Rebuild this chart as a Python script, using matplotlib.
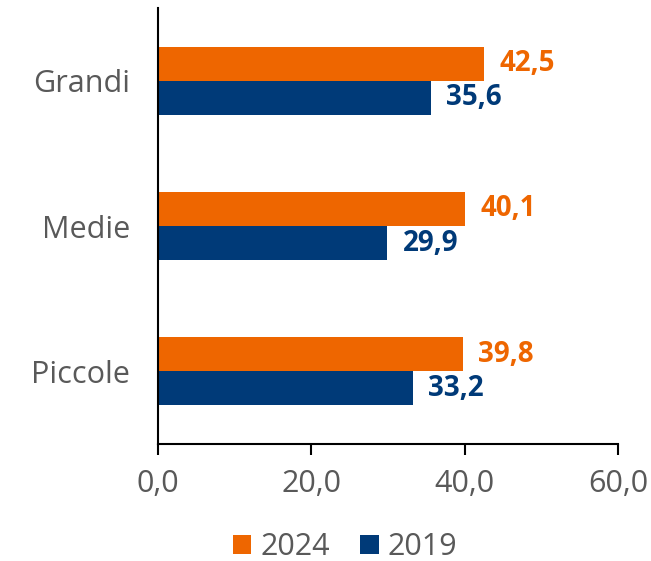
import matplotlib
matplotlib.use("Agg")
import matplotlib.pyplot as plt
import numpy as np

categories = ["Grandi", "Medie", "Piccole"]
series_names = ["2024", "2019"]
values_2024 = [42.5, 40.1, 39.8]
values_2019 = [35.6, 29.9, 33.2]
x_ticks = [0, 20, 40, 60]
x_tick_labels = ["0,0", "20,0", "40,0", "60,0"]

c24 = "#EE6600"
c19 = "#003A78"
gray = "#595959"

plt.rcParams['font.family'] = ['Open Sans', 'DejaVu Sans']

fig = plt.figure(figsize=(6.51, 5.61), dpi=100)
ax = fig.add_axes([158/651, 1-444/561, 460/651, 436/561])

y = np.arange(len(categories))
h = 0.235
b1 = ax.barh(y - h/2, values_2024, height=h, color=c24, label=series_names[0])
b2 = ax.barh(y + h/2, values_2019, height=h, color=c19, label=series_names[1])

for rect, v in zip(b1, values_2024):
    ax.annotate(f"{v:.1f}".replace(".", ","), (v, rect.get_y() + rect.get_height()/2),
                xytext=(11, 0), textcoords="offset points", va="center", ha="left",
                color=c24, fontsize=20, fontweight="bold")
for rect, v in zip(b2, values_2019):
    ax.annotate(f"{v:.1f}".replace(".", ","), (v, rect.get_y() + rect.get_height()/2),
                xytext=(11, 0), textcoords="offset points", va="center", ha="left",
                color=c19, fontsize=20, fontweight="bold")

ax.set_ylim(len(categories) - 0.5, -0.5)
ax.set_xlim(0, 60)
ax.set_xticks(x_ticks)
ax.set_xticklabels(x_tick_labels)
ax.set_yticks(y)
ax.set_yticklabels(categories)

for s in ["top", "right"]:
    ax.spines[s].set_visible(False)
for s in ["left", "bottom"]:
    ax.spines[s].set_color("black")
    ax.spines[s].set_linewidth(1.5)

ax.tick_params(axis="x", direction="out", length=8, width=1.5, colors="black",
               labelcolor=gray, labelsize=22, pad=10)
ax.tick_params(axis="y", length=0, labelcolor=gray, labelsize=22, pad=20)

leg = fig.legend(handles=[b1, b2], labels=series_names, loc="center",
                 bbox_to_anchor=(0.53, 1-547/561), ncol=2, frameon=False,
                 fontsize=22, handlelength=0.6, handleheight=0.6, handletextpad=0.3,
                 columnspacing=1.0, labelcolor=gray)

fig.savefig("out.png", dpi=100)
